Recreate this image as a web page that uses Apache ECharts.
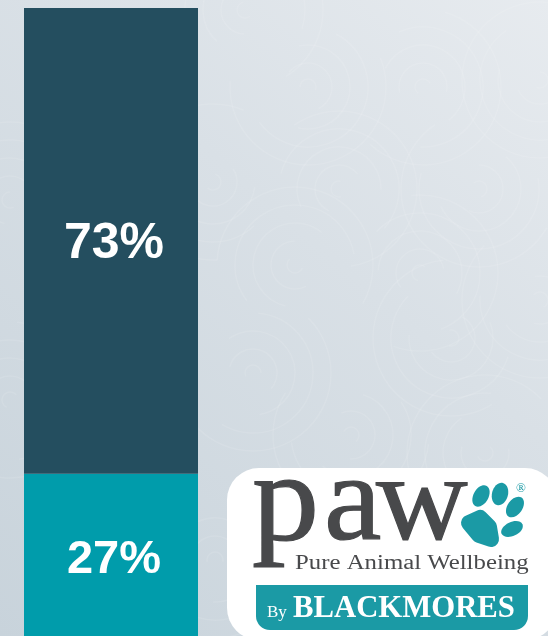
<!DOCTYPE html>
<html>
<head>
<meta charset="utf-8">
<style>html,body{margin:0;padding:0;overflow:hidden}#chart{width:548px;height:636px}</style>
<script src="https://cdn.jsdelivr.net/npm/echarts@6/dist/echarts.min.js"></script>
</head>
<body>
<div id="chart"></div>
<script>
const categories = ['Share'];
const lowerValues = [27];
const upperValues = [73];
const lowerLabel = '27%';
const upperLabel = '73%';

const TEAL = '#009cab';
const NAVY = '#244e5f';
const LOGO_TEAL = '#1b9aa5';
const LOGO_GREY = '#48494b';

// Faint swirl texture: centre x, centre y, rotation of the open side
const swirls = [
  [295,265,0.4],[339,189,1.3],[423,87,2.2],[308,87,3.1],[479,189,4.0],[213,182,5.0],
  [245,10,0.9],[420,273,1.8],[253,373,2.7],[351,435,3.6],[451,338,4.5],[485,453,5.4],
  [10,200,1.1],[10,400,2.0],[215,560,2.9],[540,300,3.8],[540,80,4.7]
];
const swirlRadii = [8, 24, 42, 60, 78];

const swirlArcs = [];
swirls.forEach(([cx, cy, turn]) => {
  swirlRadii.forEach((r, i) => {
    swirlArcs.push({
      type: 'arc', silent: true, z: 0,
      shape: { cx, cy, r, startAngle: turn + i * 0.7, endAngle: turn + i * 0.7 + 3.6 },
      style: { fill: 'none', stroke: 'rgba(255,255,255,0.1)', lineWidth: 1.5 }
    });
  });
});

function toe(x, y, rx, ry, deg) {
  return {
    type: 'ellipse', x, y, rotation: -deg * Math.PI / 180, z: 12, silent: true,
    shape: { cx: 0, cy: 0, rx, ry },
    style: { fill: LOGO_TEAL }
  };
}

// Places serif text by its baseline; zrender centres a line on the em box
function logoText(text, x, baseline, size, fill, opts) {
  const o = opts || {};
  return {
    type: 'text', z: 12, silent: true, x, y: baseline - 0.27 * size,
    scaleX: o.sx || 1,
    style: {
      text, fill, align: 'left', verticalAlign: 'middle',
      stroke: o.stroke ? fill : null, lineWidth: o.stroke || 0,
      font: (o.weight || 'normal') + ' ' + size + 'px "Liberation Serif"'
    }
  };
}

const logo = [
  { type: 'rect', z: 10, silent: true, shape: { x: 227, y: 468, width: 330, height: 172, r: 32 }, style: { fill: '#ffffff' } },
  logoText('p', 252, 541, 128, LOGO_GREY, { sx: 1.05, stroke: 1.2 }),
  logoText('a', 324, 540, 122, LOGO_GREY, { sx: 1.06, stroke: 1.2 }),
  logoText('w', 376, 540, 122, LOGO_GREY, { sx: 1.04, stroke: 1.2 }),
  logoText('Pure Animal Wellbeing', 295, 569, 20.5, LOGO_GREY, { sx: 1.21 }),
  { type: 'rect', z: 11, silent: true, shape: { x: 256, y: 585, width: 272, height: 45, r: [0, 0, 14, 14] }, style: { fill: LOGO_TEAL } },
  logoText('By', 267, 617, 17, '#ffffff'),
  logoText('BLACKMORES', 293, 617, 32, '#ffffff', { weight: 'bold', sx: 0.96 }),
  // main pad: a small polygon fattened by a round-joined outline
  {
    type: 'polygon', z: 12, silent: true,
    shape: { points: [[469,523],[480,518],[489,527],[491,539],[479,535]] },
    style: { fill: LOGO_TEAL, stroke: LOGO_TEAL, lineWidth: 16, lineJoin: 'round' }
  },
  toe(481, 496, 7.5, 11.5, 30),
  toe(500, 494, 8, 11.5, 15),
  toe(515, 507, 7.5, 11.5, 35),
  toe(512, 529, 7, 11.5, 65),
  logoText('®', 516, 492, 13, LOGO_TEAL)
];

function barLabel(text, size, offset) {
  return {
    show: true, position: 'inside', formatter: text, offset,
    color: '#ffffff', fontFamily: 'Liberation Sans', fontWeight: 'bold', fontSize: size
  };
}

const chart = echarts.init(document.getElementById('chart'), null, { renderer: 'canvas' });
chart.setOption({
  animation: false,
  backgroundColor: {
    type: 'linear', x: 0, y: 1, x2: 1, y2: 0,
    colorStops: [
      { offset: 0, color: '#c8d3db' },
      { offset: 0.6, color: '#d9e0e6' },
      { offset: 1, color: '#e7ebef' }
    ]
  },
  // the stack runs past the bottom edge of the page
  grid: { left: 24, top: 8, width: 174, height: 638, outerBoundsMode: 'none' },
  xAxis: { type: 'category', data: categories, show: false },
  yAxis: { type: 'value', min: 0, max: 100, show: false },
  series: [
    {
      type: 'bar', stack: 'total', barWidth: '100%',
      data: lowerValues, itemStyle: { color: TEAL },
      label: barLabel(lowerLabel, 47, [3, 0])
    },
    {
      type: 'bar', stack: 'total', barWidth: '100%',
      data: upperValues, itemStyle: { color: NAVY },
      label: barLabel(upperLabel, 50, [3, 3])
    }
  ],
  graphic: { elements: swirlArcs.concat(logo) }
});
</script>
</body>
</html>
